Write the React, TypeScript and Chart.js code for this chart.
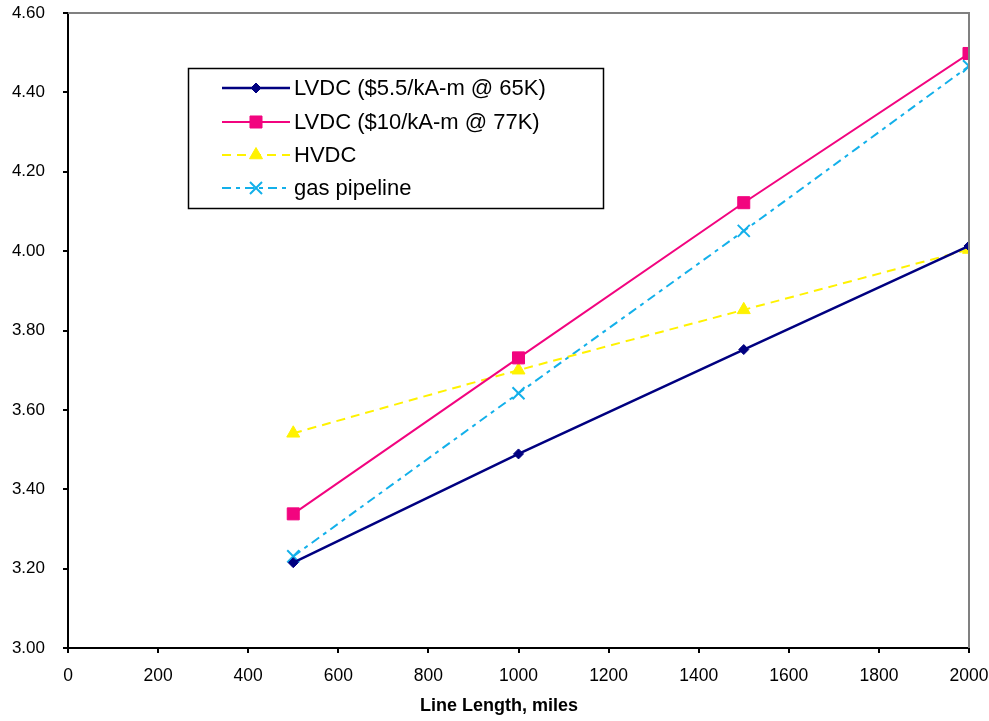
import React, { useEffect, useRef } from "react";
import { Chart, registerables } from "chart.js";
import { drawPoint } from "chart.js/helpers";

Chart.register(...registerables);

const miles = [500, 1000, 1500, 2000];
const lvdc55 = [3.215, 3.489, 3.752, 4.013];
const lvdc10 = [3.338, 3.731, 4.122, 4.498];
const hvdc = [3.541, 3.7, 3.852, 4.004];
const gas = [3.231, 3.642, 4.051, 4.466];

const seriesLabels = [
  "LVDC ($5.5/kA-m @ 65K)",
  "LVDC ($10/kA-m @ 77K)",
  "HVDC",
  "gas pipeline",
];
const xTitle = "Line Length, miles";

const FONT = "'Liberation Sans', Arial, Helvetica, sans-serif";

const toPts = (vals: number[]) => vals.map((y, i) => ({ x: miles[i], y }));

const framePlugin = {
  id: "frame",
  afterDatasetsDraw(chart: any) {
    const { ctx, chartArea } = chart;
    ctx.save();
    ctx.strokeStyle = "#808080";
    ctx.lineWidth = 2;
    ctx.beginPath();
    ctx.moveTo(chartArea.left, chartArea.top);
    ctx.lineTo(chartArea.right, chartArea.top);
    ctx.lineTo(chartArea.right, chartArea.bottom);
    ctx.stroke();
    ctx.restore();
  },
  afterDraw(chart: any) {
    const { ctx } = chart;
    ctx.save();
    // axis title
    ctx.fillStyle = "#000";
    ctx.font = `bold 18px ${FONT}`;
    ctx.textAlign = "center";
    ctx.textBaseline = "middle";
    ctx.fillText(xTitle, 499, 706);

    // legend
    const bx = 188.5, by = 68.5, bw = 415, bh = 140;
    ctx.fillStyle = "#fff";
    ctx.fillRect(bx, by, bw, bh);
    ctx.strokeStyle = "#000";
    ctx.lineWidth = 1.5;
    ctx.strokeRect(bx, by, bw, bh);
    const rows = [88, 122, 155, 188];
    chart.data.datasets.forEach((ds: any, i: number) => {
      const y = rows[i];
      ctx.save();
      ctx.strokeStyle = ds.borderColor;
      ctx.lineWidth = ds.borderWidth;
      ctx.setLineDash(ds.borderDash || []);
      ctx.beginPath();
      ctx.moveTo(222, y);
      ctx.lineTo(290, y);
      ctx.stroke();
      ctx.setLineDash([]);
      ctx.fillStyle = ds.pointBackgroundColor;
      ctx.strokeStyle = ds.pointBorderColor;
      ctx.lineWidth = ds.pointBorderWidth;
      drawPoint(ctx, { pointStyle: ds.pointStyle, radius: ds.pointRadius, borderWidth: ds.pointBorderWidth, rotation: 0 }, 256, y);
      ctx.restore();
      ctx.fillStyle = "#000";
      ctx.font = `22px ${FONT}`;
      ctx.textAlign = "left";
      ctx.textBaseline = "middle";
      ctx.fillText(ds.label, 294, y + 1);
    });
    ctx.restore();
  },
};

export default function App() {
  const ref = useRef<HTMLCanvasElement | null>(null);
  useEffect(() => {
    if (!ref.current) return;
    const navy = "#000080";
    const pink = "#f2047f";
    const yellow = "#fff200";
    const cyan = "#13b0ea";
    const chart = new Chart(ref.current, {
      type: "line",
      data: {
        datasets: [
          {
            label: seriesLabels[0],
            data: toPts(lvdc55),
            borderColor: navy,
            backgroundColor: navy,
            borderWidth: 2.5,
            pointStyle: "rectRot",
            pointRadius: 5,
            pointBackgroundColor: navy,
            pointBorderColor: navy,
            pointBorderWidth: 1,
            tension: 0,
          },
          {
            label: seriesLabels[1],
            data: toPts(lvdc10),
            borderColor: pink,
            backgroundColor: pink,
            borderWidth: 2,
            pointStyle: "rect",
            pointRadius: 8.5,
            pointBackgroundColor: pink,
            pointBorderColor: pink,
            pointBorderWidth: 1,
            tension: 0,
          },
          {
            label: seriesLabels[2],
            data: toPts(hvdc),
            borderColor: yellow,
            backgroundColor: yellow,
            borderWidth: 2,
            borderDash: [9, 6],
            pointStyle: "triangle",
            pointRadius: 7.5,
            pointBackgroundColor: yellow,
            pointBorderColor: yellow,
            pointBorderWidth: 1,
            tension: 0.3,
          },
          {
            label: seriesLabels[3],
            data: toPts(gas),
            borderColor: cyan,
            backgroundColor: cyan,
            borderWidth: 2,
            borderDash: [9, 5, 4, 5],
            pointStyle: "crossRot",
            pointRadius: 8.5,
            pointBackgroundColor: cyan,
            pointBorderColor: cyan,
            pointBorderWidth: 2,
            tension: 0.3,
          },
        ],
      },
      options: {
        responsive: false,
        animation: false,
        layout: { padding: { left: 0, right: 20, top: 13, bottom: 0 } },
        plugins: {
          legend: { display: false },
          tooltip: { enabled: false },
          title: { display: false },
        },
        scales: {
          x: {
            type: "linear",
            min: 0,
            max: 2000,
            ticks: {
              stepSize: 200,
              color: "#000",
              font: { family: FONT, size: 17.5 },
              padding: 13,
              maxRotation: 0,
              autoSkip: false,
              callback: (v: any) => String(v),
            },
            grid: {
              drawOnChartArea: false,
              drawTicks: true,
              tickLength: 5,
              color: "#000",
              lineWidth: 2,
            },
            border: { display: true, color: "#000", width: 2 },
            afterFit: (s: any) => {
              s.height = 73;
              s.paddingLeft = 0;
              s.paddingRight = 0;
            },
          },
          y: {
            type: "linear",
            min: 3.0,
            max: 4.6,
            ticks: {
              stepSize: 0.2,
              color: "#000",
              font: { family: FONT, size: 17 },
              padding: 18,
              callback: (v: any) => Number(v).toFixed(2),
            },
            grid: {
              drawOnChartArea: false,
              drawTicks: true,
              tickLength: 5,
              color: "#000",
              lineWidth: 2,
            },
            border: { display: true, color: "#000", width: 2 },
            afterFit: (s: any) => {
              s.width = 68;
              s.paddingTop = 0;
              s.paddingBottom = 0;
            },
          },
        },
      },
      plugins: [framePlugin],
    });
    return () => chart.destroy();
  }, []);
  return (
    <div style={{ position: "absolute", left: 0, top: 0, width: 989, height: 721, background: "#fff" }}>
      <canvas ref={ref} width={989} height={721} style={{ display: "block" }} />
    </div>
  );
}
